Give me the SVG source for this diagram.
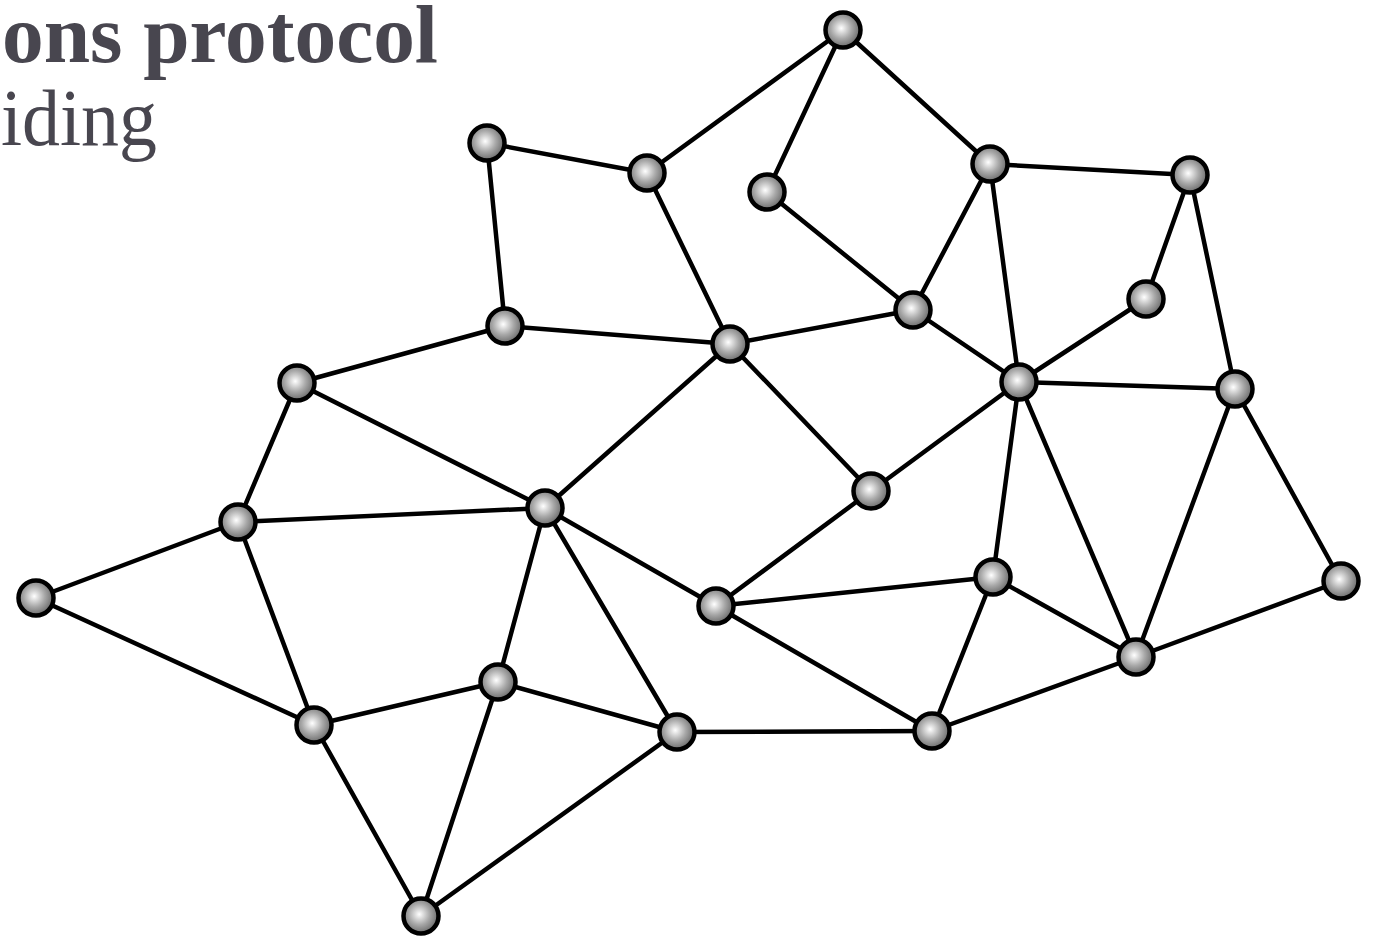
<svg xmlns="http://www.w3.org/2000/svg" width="1378" height="937" viewBox="0 0 1378 937">
<defs>
<radialGradient id="g" cx="0.45" cy="0.45" r="0.6">
<stop offset="0" stop-color="#ffffff"/>
<stop offset="0.5" stop-color="#a8a8a8"/>
<stop offset="1" stop-color="#5e5e5e"/>
</radialGradient>
</defs>
<style>
.e{stroke:#000;stroke-width:4.5;fill:none;stroke-linecap:round}
.n{fill:url(#g);stroke:#000;stroke-width:4.5}
.t{fill:#48464f;font-family:"Liberation Serif",serif}
</style>
<rect width="1378" height="937" fill="#fff"/>
<text class="t" x="2" y="62" font-size="82" font-weight="bold" textLength="436" lengthAdjust="spacingAndGlyphs">ons protocol</text>
<text class="t" x="1" y="145" font-size="80" textLength="156" lengthAdjust="spacingAndGlyphs">iding</text>
<g id="connectors">
<line class="e" x1="843" y1="30" x2="647" y2="173"/>
<line class="e" x1="843" y1="30" x2="767" y2="192"/>
<line class="e" x1="843" y1="30" x2="990" y2="164"/>
<line class="e" x1="487" y1="143" x2="647" y2="173"/>
<line class="e" x1="487" y1="143" x2="505" y2="326"/>
<line class="e" x1="647" y1="173" x2="730" y2="344"/>
<line class="e" x1="767" y1="192" x2="913" y2="310"/>
<line class="e" x1="990" y1="164" x2="1190" y2="175"/>
<line class="e" x1="990" y1="164" x2="913" y2="310"/>
<line class="e" x1="990" y1="164" x2="1019" y2="382"/>
<line class="e" x1="1190" y1="175" x2="1146" y2="299"/>
<line class="e" x1="1190" y1="175" x2="1235" y2="389"/>
<line class="e" x1="1146" y1="299" x2="1019" y2="382"/>
<line class="e" x1="913" y1="310" x2="730" y2="344"/>
<line class="e" x1="913" y1="310" x2="1019" y2="382"/>
<line class="e" x1="505" y1="326" x2="730" y2="344"/>
<line class="e" x1="505" y1="326" x2="297" y2="383"/>
<line class="e" x1="730" y1="344" x2="545" y2="508"/>
<line class="e" x1="730" y1="344" x2="871" y2="491"/>
<line class="e" x1="297" y1="383" x2="545" y2="508"/>
<line class="e" x1="297" y1="383" x2="238" y2="522"/>
<line class="e" x1="1019" y1="382" x2="1235" y2="389"/>
<line class="e" x1="1019" y1="382" x2="871" y2="491"/>
<line class="e" x1="1019" y1="382" x2="993" y2="577"/>
<line class="e" x1="1019" y1="382" x2="1136" y2="657"/>
<line class="e" x1="1235" y1="389" x2="1136" y2="657"/>
<line class="e" x1="1235" y1="389" x2="1341" y2="581"/>
<line class="e" x1="871" y1="491" x2="716" y2="606"/>
<line class="e" x1="545" y1="508" x2="238" y2="522"/>
<line class="e" x1="545" y1="508" x2="716" y2="606"/>
<line class="e" x1="545" y1="508" x2="498" y2="682"/>
<line class="e" x1="545" y1="508" x2="677" y2="732"/>
<line class="e" x1="238" y1="522" x2="36" y2="598"/>
<line class="e" x1="238" y1="522" x2="314" y2="725"/>
<line class="e" x1="36" y1="598" x2="314" y2="725"/>
<line class="e" x1="993" y1="577" x2="716" y2="606"/>
<line class="e" x1="993" y1="577" x2="1136" y2="657"/>
<line class="e" x1="993" y1="577" x2="932" y2="731"/>
<line class="e" x1="716" y1="606" x2="932" y2="731"/>
<line class="e" x1="1341" y1="581" x2="1136" y2="657"/>
<line class="e" x1="1136" y1="657" x2="932" y2="731"/>
<line class="e" x1="498" y1="682" x2="314" y2="725"/>
<line class="e" x1="498" y1="682" x2="677" y2="732"/>
<line class="e" x1="498" y1="682" x2="421" y2="916"/>
<line class="e" x1="314" y1="725" x2="421" y2="916"/>
<line class="e" x1="677" y1="732" x2="932" y2="731"/>
<line class="e" x1="677" y1="732" x2="421" y2="916"/>
</g>
<g id="n1"><circle class="n" cx="843" cy="30" r="17.5"/></g>
<g id="n2"><circle class="n" cx="487" cy="143" r="17.5"/></g>
<g id="n3"><circle class="n" cx="647" cy="173" r="17.5"/></g>
<g id="n4"><circle class="n" cx="767" cy="192" r="17.5"/></g>
<g id="n5"><circle class="n" cx="990" cy="164" r="17.5"/></g>
<g id="n6"><circle class="n" cx="1190" cy="175" r="17.5"/></g>
<g id="n7"><circle class="n" cx="1146" cy="299" r="17.5"/></g>
<g id="n8"><circle class="n" cx="913" cy="310" r="17.5"/></g>
<g id="n9"><circle class="n" cx="505" cy="326" r="17.5"/></g>
<g id="n10"><circle class="n" cx="730" cy="344" r="17.5"/></g>
<g id="n11"><circle class="n" cx="297" cy="383" r="17.5"/></g>
<g id="n12"><circle class="n" cx="1019" cy="382" r="17.5"/></g>
<g id="n13"><circle class="n" cx="1235" cy="389" r="17.5"/></g>
<g id="n14"><circle class="n" cx="871" cy="491" r="17.5"/></g>
<g id="n15"><circle class="n" cx="545" cy="508" r="17.5"/></g>
<g id="n16"><circle class="n" cx="238" cy="522" r="17.5"/></g>
<g id="n17"><circle class="n" cx="36" cy="598" r="17.5"/></g>
<g id="n18"><circle class="n" cx="993" cy="577" r="17.5"/></g>
<g id="n19"><circle class="n" cx="716" cy="606" r="17.5"/></g>
<g id="n20"><circle class="n" cx="1341" cy="581" r="17.5"/></g>
<g id="n21"><circle class="n" cx="1136" cy="657" r="17.5"/></g>
<g id="n22"><circle class="n" cx="498" cy="682" r="17.5"/></g>
<g id="n23"><circle class="n" cx="314" cy="725" r="17.5"/></g>
<g id="n24"><circle class="n" cx="677" cy="732" r="17.5"/></g>
<g id="n25"><circle class="n" cx="932" cy="731" r="17.5"/></g>
<g id="n26"><circle class="n" cx="421" cy="916" r="17.5"/></g>
</svg>
